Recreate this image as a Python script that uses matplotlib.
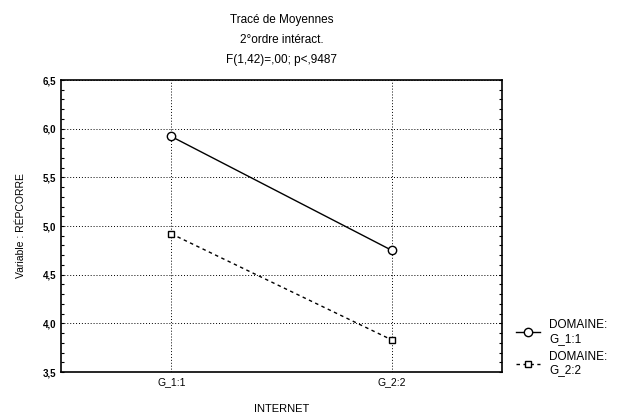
import matplotlib
matplotlib.use("Agg")
import matplotlib.pyplot as plt
from matplotlib.ticker import MultipleLocator

plt.rcParams["font.family"] = ["Liberation Sans", "DejaVu Sans"]

categories = ["G_1:1", "G_2:2"]
domaine_1 = [5.92, 4.75]
domaine_2 = [4.92, 3.83]
labels = ["DOMAINE:\nG_1:1", "DOMAINE:\nG_2:2"]

fig = plt.figure(figsize=(6.17, 4.12), dpi=100)
ax = fig.add_axes([61 / 617, 1 - 372 / 412, 441 / 617, 292 / 412])

xs = range(len(categories))
ax.plot(xs, domaine_1, color="black", lw=1.0, marker="o", ms=6,
        mfc="white", mec="black", mew=1.0, label=labels[0])
ax.plot(xs, domaine_2, color="black", lw=1.0, ls=(0, (2.5, 2.5)), marker="s", ms=5,
        mfc="white", mec="black", mew=1.0, label=labels[1])

ax.set_xlim(-0.5, 1.5)
ax.set_ylim(3.5, 6.5)
ax.set_xticks(list(xs))
ax.set_xticklabels(categories, fontsize=7.5)
ax.yaxis.set_major_locator(MultipleLocator(0.5))
ax.yaxis.set_minor_locator(MultipleLocator(0.1))
ax.set_yticklabels([f"{v:.1f}".replace(".", ",") for v in ax.get_yticks()],
                   fontsize=7, fontweight="bold")
ax.tick_params(axis="y", which="both", direction="in", left=True, right=True, length=2, width=0.8)
ax.tick_params(axis="x", length=0)
ax.grid(True, which="major", color="black", ls=(0, (1, 2)), lw=0.7)
for s in ax.spines.values():
    s.set_linewidth(1.2)

ax.set_xlabel("INTERNET", fontsize=8, labelpad=12)
ax.set_ylabel("Variable : RÉPCORRE", fontsize=7.5, labelpad=12)

ax.set_title("Tracé de Moyennes\n2°ordre intéract.\nF(1,42)=,00; p<,9487",
             fontsize=8.5, linespacing=1.9, pad=12)

ax.legend(loc="upper left", bbox_to_anchor=(1.0, 0.23), frameon=False, fontsize=8.5,
          handlelength=2.0, handletextpad=0.8, labelspacing=0.5, borderaxespad=0.8)

fig.savefig("out.png", dpi=100)
